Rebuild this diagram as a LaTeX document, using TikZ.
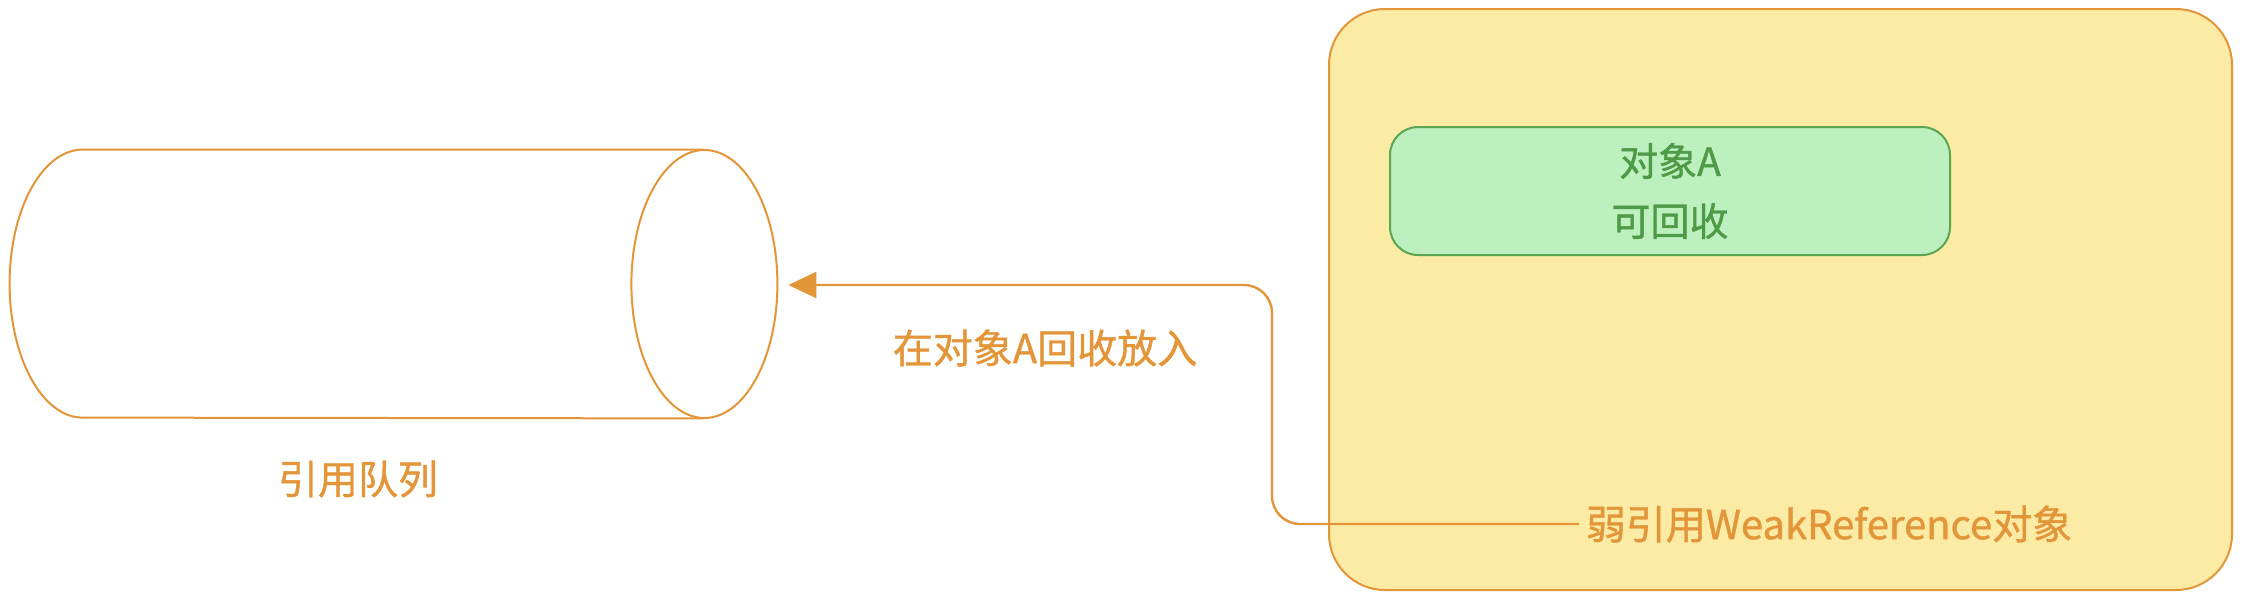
\documentclass[tikz,border=0pt]{standalone}
\usepackage{fontspec}
\newfontfamily\cjk[FakeBold=1]{Noto Sans CJK SC}
\usepackage{xcolor}
\usepackage{tikz}
\usetikzlibrary{arrows.meta, positioning}
\definecolor{qorange}{HTML}{E39539}
\definecolor{wyellow}{HTML}{FCEBA4}
\definecolor{agreen}{HTML}{BDF0BF}
\definecolor{agreenline}{HTML}{5CA653}
\definecolor{agreentext}{HTML}{4F9A47}

\begin{document}
\begin{tikzpicture}[
  x=0.5pt, y=-0.5pt,
  box/.style={draw, rounded corners=14pt, line width=1pt, align=center, inner sep=0pt},
  lbl/.style={font=\cjk\fontsize{20}{30}\selectfont, text=qorange},
  cyl/.style={draw=qorange, line width=1pt},
  arr/.style={-{Triangle[length=14pt, width=13pt]}, line width=1.2pt, draw=qorange, rounded corners=14pt}
]
  \useasboundingbox (0,0) rectangle (2244,600);
  \node[minimum width=383.5pt, minimum height=134pt, inner sep=0pt] (queue) at (393.5,284) {};
  \draw[cyl] ([xshift=36.5pt]queue.north west) -- ([xshift=-36.5pt]queue.north east)
    ([xshift=36.5pt]queue.north west) arc[start angle=90, end angle=270, x radius=36.5pt, y radius=67pt]
    -- ([xshift=-36.5pt]queue.south east);
  \draw[cyl] ([xshift=-36.5pt]queue.east) ellipse[x radius=36.5pt, y radius=67pt];
  \node[lbl] (qlabel) at (358,479) {引用队列};
  \node[box, draw=qorange, fill=wyellow, rounded corners=28pt, minimum width=451.5pt,
        minimum height=290.5pt] (weak) at (1780.5,299.5) {};
  \node[box, draw=agreenline, fill=agreen, minimum width=280pt, minimum height=64pt,
        font=\cjk\fontsize{19.5}{30}\selectfont, text=agreentext] (objA) at (1670,191) {对象A\\可回收};
  \node[lbl] (wlabel) at (1829,524) {弱引用WeakReference对象};
  \coordinate (bend) at (1272,285);

  \draw[arr, shorten >=5.5pt] (wlabel.west) -| (bend) -- (queue.east |- bend);
  \node[lbl] (alabel) at (1045,348) {在对象A回收放入};
\end{tikzpicture}
\end{document}
